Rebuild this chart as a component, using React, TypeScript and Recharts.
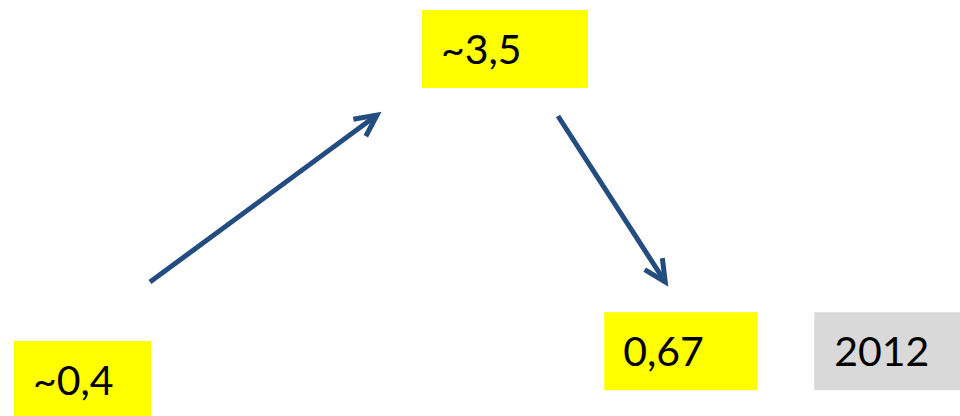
import React from 'react';
import { ScatterChart, Scatter, XAxis, YAxis } from 'recharts';

// ---- data ----
const labels = ['~0,4', '~3,5', '0,67'];
const values = [0.4, 3.5, 0.67];
const stages = [1, 6, 8.08];
const years: (string | null)[] = [null, null, '2012'];

// ---- layout / style ----
const W = 960;
const H = 416;
const BOX_W = [137, 166, 153];
const BOX_H = 78;
const YEAR_GAP = 57;
const YEAR_W = 148;
const TEXT_PAD = 19;
const FONT = 'Lato, "Open Sans", sans-serif';
const FONT_SIZE = 41;
const ARROW = '#234c80';
// arrow start/end offsets (px) relative to the connected points
const ARROW_OFFSETS = [
  { s: [67.5, -98], e: [-128, 66] },
  { s: [53, 67], e: [-15.5, -69.2] },
];

const rows = values.map((v, i) => ({ x: stages[i], y: v, label: labels[i], year: years[i], i }));

const BoxShape = (props: any) => {
  const { cx, cy, payload } = props;
  const w = BOX_W[payload.i];
  const left = cx - w / 2;
  const top = cy - BOX_H / 2;
  return (
    <g>
      <rect x={left} y={top} width={w} height={BOX_H} fill="#FFFF00" />
      <text x={left + TEXT_PAD} y={cy + 15} fontSize={FONT_SIZE} fontFamily={FONT} fill="#000">
        {payload.label}
      </text>
      {payload.year ? (
        <g>
          <rect x={left + w + YEAR_GAP} y={top} width={YEAR_W} height={BOX_H} fill="#D9D9D9" />
          <text x={left + w + YEAR_GAP + 20} y={cy + 15} fontSize={FONT_SIZE} fontFamily={FONT} fill="#000">
            {payload.year}
          </text>
        </g>
      ) : null}
    </g>
  );
};

const Arrows = (props: any) => {
  const pts: { x: number; y: number }[] = props.points || [];
  const out: React.ReactNode[] = [];
  for (let k = 0; k < pts.length - 1; k++) {
    const off = ARROW_OFFSETS[k];
    if (!off) continue;
    const x1 = pts[k].x + off.s[0];
    const y1 = pts[k].y + off.s[1];
    const x2 = pts[k + 1].x + off.e[0];
    const y2 = pts[k + 1].y + off.e[1];
    const ang = Math.atan2(y1 - y2, x1 - x2);
    const L = 24;
    const da = (26 * Math.PI) / 180;
    const a1x = x2 + L * Math.cos(ang + da);
    const a1y = y2 + L * Math.sin(ang + da);
    const a2x = x2 + L * Math.cos(ang - da);
    const a2y = y2 + L * Math.sin(ang - da);
    out.push(
      <g key={k}>
        <line x1={x1} y1={y1} x2={x2} y2={y2} stroke={ARROW} strokeWidth={5} />
        <polyline
          points={`${a1x},${a1y} ${x2},${y2} ${a2x},${a2y}`}
          fill="none"
          stroke={ARROW}
          strokeWidth={5}
          strokeLinejoin="miter"
        />
      </g>
    );
  }
  return <g>{out}</g>;
};

export default function App() {
  return (
    <div style={{ position: 'absolute', left: 0, top: 0, width: W, height: H, background: '#fff' }}>
      <ScatterChart width={W} height={H} margin={{ top: 0, right: 0, bottom: 0, left: 0 }}>
        <XAxis type="number" dataKey="x" domain={[0.024, 11.385]} hide allowDataOverflow />
        <YAxis type="number" dataKey="y" domain={[0.063, 3.959]} hide allowDataOverflow />
        <Scatter data={rows} shape={BoxShape} line={Arrows} isAnimationActive={false} />
      </ScatterChart>
    </div>
  );
}
